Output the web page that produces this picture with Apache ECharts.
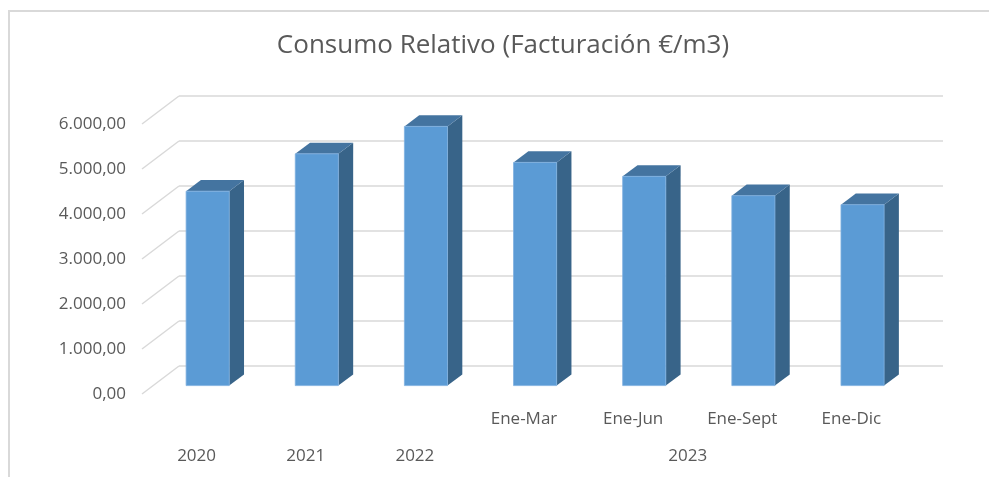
<!DOCTYPE html>
<html>
<head>
<meta charset="utf-8">
<title>Consumo Relativo</title>
<script src="https://cdn.jsdelivr.net/npm/echarts@6/dist/echarts.min.js"></script>
<style>
  html, body { margin: 0; padding: 0; background: #fff; overflow: hidden; }
  #frame {
    position: absolute; left: 8px; top: 10px; width: 1200px; height: 700px;
    border-left: 2px solid #d9d9d9; border-top: 2px solid #d9d9d9;
  }
  #chart { position: absolute; left: 0; top: 0; width: 989px; height: 477px; }
</style>
</head>
<body>
<div id="frame"></div>
<div id="chart"></div>
<script>
// data
var categories = ["2020", "2021", "2022", "Ene-Mar", "Ene-Jun", "Ene-Sept", "Ene-Dic"];
var periodLabels = ["", "", "", "Ene-Mar", "Ene-Jun", "Ene-Sept", "Ene-Dic"];
var yearLabels = ["2020", "2021", "2022", "2023"];
var yearSpans = [[0, 0], [1, 1], [2, 2], [3, 6]];
var values = [4320, 5150, 5760, 4960, 4650, 4220, 4020];
var yTicks = [0, 1000, 2000, 3000, 4000, 5000, 6000];

// fake 3d: depth vector from back wall to front edge of the floor
var DX = -37, DY = 28;
var FRONT = 0.7, BACK = 0.3; // bar depth position
var textColor = "#595959";
var gridColor = "#d9d9d9";
var font = "Open Sans";

function fmt(v) {
  var s = Math.floor(v).toString();
  s = s.replace(/\B(?=(\d{3})+(?!\d))/g, ".");
  return s + ",00";
}

var chart = echarts.init(document.getElementById("chart"), null, { renderer: "canvas" });

function renderBar(params, api) {
  var i = api.value(0);
  var top = api.coord([i, api.value(1)]);
  var base = api.coord([i, 0]);
  var w = api.size([1, 0])[0] * 0.395;
  var xl = top[0] - w / 2, xr = top[0] + w / 2;
  var fx = DX * FRONT, fy = DY * FRONT, bx = DX * BACK, by = DY * BACK;
  return {
    type: "group",
    children: [
      {
        type: "polygon",
        shape: { points: [[xr + fx, top[1] + fy], [xr + bx, top[1] + by], [xr + bx, base[1] + by], [xr + fx, base[1] + fy]] },
        style: { fill: "#386489" }
      },
      {
        type: "polygon",
        shape: { points: [[xl + fx, top[1] + fy], [xr + fx, top[1] + fy], [xr + bx, top[1] + by], [xl + bx, top[1] + by]] },
        style: { fill: "#4474a0" }
      },
      {
        type: "rect",
        shape: { x: xl + fx, y: top[1] + fy, width: w, height: base[1] - top[1] },
        style: { fill: "#5b9bd5", stroke: "#7fb0e0", lineWidth: 0.8 }
      }
    ]
  };
}

function renderWall(params, api) {
  var p = api.coord([0, api.value(1)]);
  var x0 = params.coordSys.x;
  return {
    type: "group",
    children: [
      {
        type: "line",
        shape: { x1: x0, y1: p[1], x2: x0 + DX, y2: p[1] + DY },
        style: { stroke: gridColor, lineWidth: 1.5 }
      },
      {
        type: "text",
        x: x0 + DX - 16, y: p[1] + DY,
        style: {
          text: fmt(api.value(1)), fill: textColor, font: "17px '" + font + "'",
          align: "right", verticalAlign: "middle"
        }
      }
    ]
  };
}

function renderPeriod(params, api) {
  var i = api.value(0);
  var p = api.coord([i, 0]);
  return {
    type: "text",
    x: p[0] + DX, y: p[1] + DY + 25,
    style: {
      text: periodLabels[i], fill: textColor, font: "17px '" + font + "'",
      align: "center", verticalAlign: "middle"
    }
  };
}

function renderYear(params, api) {
  var a = api.coord([api.value(0), 0]);
  var b = api.coord([api.value(1), 0]);
  return {
    type: "text",
    x: (a[0] + b[0]) / 2 + DX, y: a[1] + DY + 62,
    style: {
      text: yearLabels[params.dataIndex], fill: textColor, font: "17px '" + font + "'",
      align: "center", verticalAlign: "middle"
    }
  };
}

chart.setOption({
  animation: false,
  title: {
    text: "Consumo Relativo (Facturación €/m3)",
    left: 503,
    top: 29,
    padding: 0,
    textAlign: "center",
    textStyle: { fontFamily: font, fontSize: 26, fontWeight: "normal", color: textColor, lineHeight: 34 }
  },
  grid: { left: 179, right: 46, top: 96, bottom: 111 },
  xAxis: {
    type: "category",
    data: categories,
    axisLine: { show: false },
    axisTick: { show: false },
    axisLabel: { show: false }
  },
  yAxis: {
    type: "value",
    min: 0,
    max: 6000,
    interval: 1000,
    axisLabel: { show: false },
    splitLine: { lineStyle: { color: gridColor, width: 1.5 } }
  },
  series: [
    {
      type: "custom", silent: true, clip: false,
      renderItem: renderWall,
      data: yTicks.map(function (v) { return [0, v]; })
    },
    {
      type: "custom", silent: true, clip: false,
      renderItem: renderPeriod,
      data: categories.map(function (c, i) { return [i, 0]; })
    },
    {
      type: "custom", silent: true, clip: false,
      renderItem: renderYear,
      data: yearSpans
    },
    {
      type: "custom", silent: true, clip: false,
      renderItem: renderBar,
      data: values.map(function (v, i) { return [i, v]; })
    }
  ]
});
</script>
</body>
</html>
